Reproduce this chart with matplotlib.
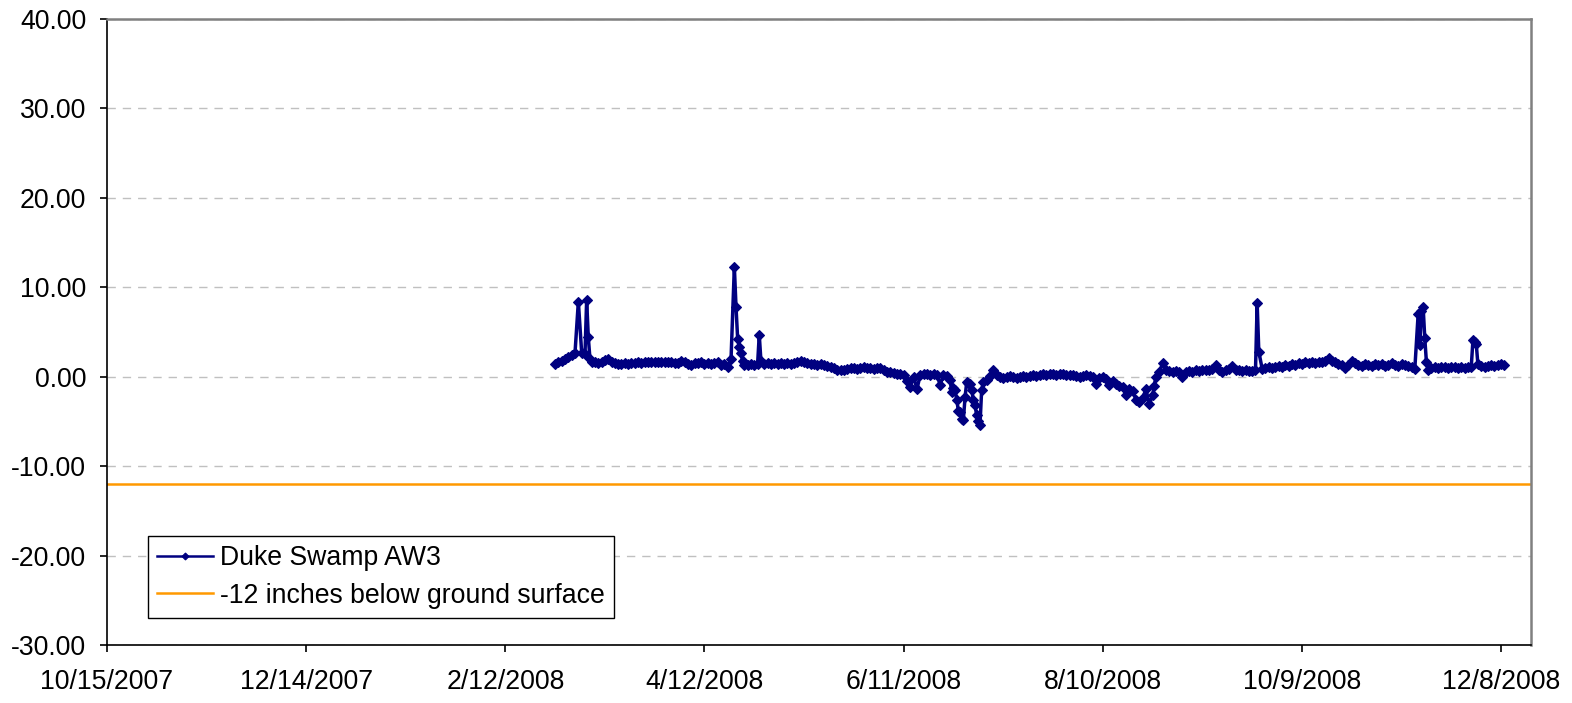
import pandas as pd
import matplotlib
matplotlib.use("Agg")
import matplotlib.pyplot as plt
from matplotlib.ticker import FormatStrFormatter

plt.rcParams['font.family'] = ['Liberation Sans', 'DejaVu Sans']

# daily water level readings (inches), one list per month, Feb 27 - Dec 9 2008
feb = [1.45, 1.6, 1.8]
mar = [2.0, 2.2, 2.4, 2.7, 8.4, 2.7, 2.5, 4.4, 1.7, 1.6,
       1.5, 1.7, 1.9, 2.0, 1.7, 1.5, 1.4, 1.4, 1.5, 1.4,
       1.5, 1.5, 1.6, 1.5, 1.6, 1.6, 1.7, 1.6, 1.7, 1.6, 1.7]
apr = [1.7, 1.6, 1.5, 1.5, 1.8, 1.6, 1.4, 1.3, 1.5, 1.5,
       1.6, 1.4, 1.5, 1.4, 1.5, 1.6, 1.3, 1.4, 1.1, 2.0,
       12.3, 4.2, 2.6, 1.3, 1.3, 1.4, 1.3, 1.4, 1.8, 1.4]
may = [1.5, 1.4, 1.5, 1.4, 1.5, 1.4, 1.5, 1.4, 1.5, 1.6,
       1.8, 1.6, 1.5, 1.4, 1.4, 1.3, 1.4, 1.3, 1.2, 1.1,
       1.0, 0.8, 0.7, 0.8, 0.9, 1.0, 1.0, 0.9, 1.0, 1.1, 1.0]
jun = [1.0, 0.9, 1.0, 1.0, 0.8, 0.5, 0.5, 0.4, 0.3, 0.3,
       0.2, -0.5, -1.1, 0.0, -1.4, 0.2, 0.3, 0.3, 0.2, 0.3,
       0.2, -0.9, 0.2, 0.1, -0.4, -1.3, -2.6, -3.9, -4.8, -0.6]
jul = [-0.8, -2.6, -4.3, -5.4, -0.6, -0.4, 0.1, 0.75, 0.2, 0.0,
       -0.1, 0.0, 0.1, 0.0, -0.1, 0.0, 0.1, 0.0, 0.1, 0.2,
       0.1, 0.2, 0.3, 0.2, 0.3, 0.3, 0.2, 0.3, 0.3, 0.2, 0.2]
aug = [0.2, 0.1, 0.0, 0.1, 0.2, 0.1, 0.0, -0.8, -0.1, 0.0,
       -0.3, -0.9, -0.5, -0.8, -1.0, -1.2, -2.0, -1.4, -1.6, -2.6,
       -2.8, -2.4, -1.4, -3.1, -2.1, 0.0, 0.5, 1.5, 0.7, 0.6, 0.5]
sep = [0.6, 0.5, 0.0, 0.5, 0.6, 0.5, 0.7, 0.6, 0.7, 0.8,
       0.7, 0.9, 1.3, 0.8, 0.5, 0.7, 0.9, 1.25, 0.8, 0.7,
       0.6, 0.7, 0.6, 0.6, 0.7, 2.8, 0.9, 1.0, 1.1, 1.0]
oct_ = [1.1, 1.2, 1.1, 1.3, 1.2, 1.4, 1.3, 1.5, 1.4, 1.6,
        1.5, 1.6, 1.5, 1.7, 1.6, 1.8, 2.1, 1.8, 1.6, 1.4,
        1.3, 1.0, 1.3, 1.8, 1.5, 1.3, 1.2, 1.4, 1.3, 1.2, 1.4]
nov = [1.3, 1.4, 1.2, 1.3, 1.5, 1.3, 1.2, 1.4, 1.3, 1.2,
       1.1, 0.9, 7.0, 7.4, 4.3, 0.8, 1.0, 1.1, 1.0, 1.1,
       1.1, 1.0, 1.1, 1.1, 1.0, 1.1, 1.0, 1.1, 1.1, 3.9]
dec = [1.4, 1.2, 1.1, 1.2, 1.3, 1.2, 1.3, 1.4, 1.3]

# additional mid-day readings logged during storm events
extra_times = ["2008-03-07 12:00", "2008-03-08 12:00",
               "2008-04-21 12:00", "2008-04-22 12:00", "2008-04-23 12:00",
               "2008-04-28 12:00",
               "2008-06-25 12:00", "2008-06-26 12:00", "2008-06-27 12:00",
               "2008-06-28 12:00", "2008-06-29 12:00", "2008-06-30 12:00",
               "2008-07-01 12:00", "2008-07-02 12:00", "2008-07-03 12:00",
               "2008-07-04 12:00",
               "2008-08-25 12:00", "2008-09-25 12:00",
               "2008-11-13 12:00", "2008-11-14 12:00", "2008-11-15 12:00",
               "2008-11-29 12:00", "2008-11-30 12:00"]
extra_levels = [8.6, 2.0,
                7.8, 3.3, 1.8,
                4.7,
                -1.7, -1.5, -3.8,
                -4.7, -2.3, -0.7,
                -1.5, -3.2, -4.9,
                -1.5,
                -1.0, 8.25,
                3.5, 7.85, 1.6,
                4.05, 3.7]

ground_ref = -12.0

tick_dates = ["2007-10-15", "2007-12-14", "2008-02-12", "2008-04-12",
              "2008-06-11", "2008-08-10", "2008-10-09", "2008-12-08"]
tick_labels = ["10/15/2007", "12/14/2007", "2/12/2008", "4/12/2008",
               "6/11/2008", "8/10/2008", "10/9/2008", "12/8/2008"]

daily = feb + mar + apr + may + jun + jul + aug + sep + oct_ + nov + dec
days = pd.date_range("2008-02-27", periods=len(daily), freq="D")
level = pd.concat([pd.Series(daily, index=days),
                   pd.Series(extra_levels, index=pd.to_datetime(extra_times))]).sort_index()

fig = plt.figure(figsize=(15.72, 7.03), dpi=100)
ax = fig.add_axes([107 / 1572, 1 - 645 / 703, 1424 / 1572, 626 / 703])

ax.plot(level.index, level.values, color='#000080', lw=2.5, marker='D', ms=5,
        mec='#000080', mew=0.8, label='Duke Swamp AW3', zorder=3)
ax.axhline(ground_ref, color='#FF9900', lw=1.8,
           label='-12 inches below ground surface', zorder=2)

ax.set_xlim(pd.Timestamp("2007-10-15"), pd.Timestamp("2008-12-17"))
ax.set_ylim(-30, 40)
ax.set_yticks(range(-30, 41, 10))
ax.yaxis.set_major_formatter(FormatStrFormatter('%.2f'))
ax.set_xticks(pd.to_datetime(tick_dates))
ax.set_xticklabels(tick_labels)

ax.yaxis.grid(True, linestyle=(0, (6, 5)), color='#C0C0C0', lw=1)
ax.set_axisbelow(True)

for side in ['top', 'right']:
    ax.spines[side].set_color('#808080')
    ax.spines[side].set_linewidth(1.8)
for side in ['left', 'bottom']:
    ax.spines[side].set_color('black')
    ax.spines[side].set_linewidth(1.2)

ax.tick_params(axis='both', direction='out', length=5, width=1.2, labelsize=19.2)
ax.tick_params(axis='y', pad=10)
ax.tick_params(axis='x', pad=12)

leg = ax.legend(loc='lower left', bbox_to_anchor=(0.0288, 0.0431), borderaxespad=0,
                fontsize=19.2, frameon=True, fancybox=False, framealpha=1,
                edgecolor='black', handlelength=2.1, handletextpad=0.25,
                borderpad=0.35, labelspacing=0.42, numpoints=1)
leg.get_frame().set_linewidth(1.0)
leg.get_lines()[0].set_linewidth(1.8)
leg.get_lines()[0].set_markersize(3.5)

fig.savefig("out.png", dpi=100)
